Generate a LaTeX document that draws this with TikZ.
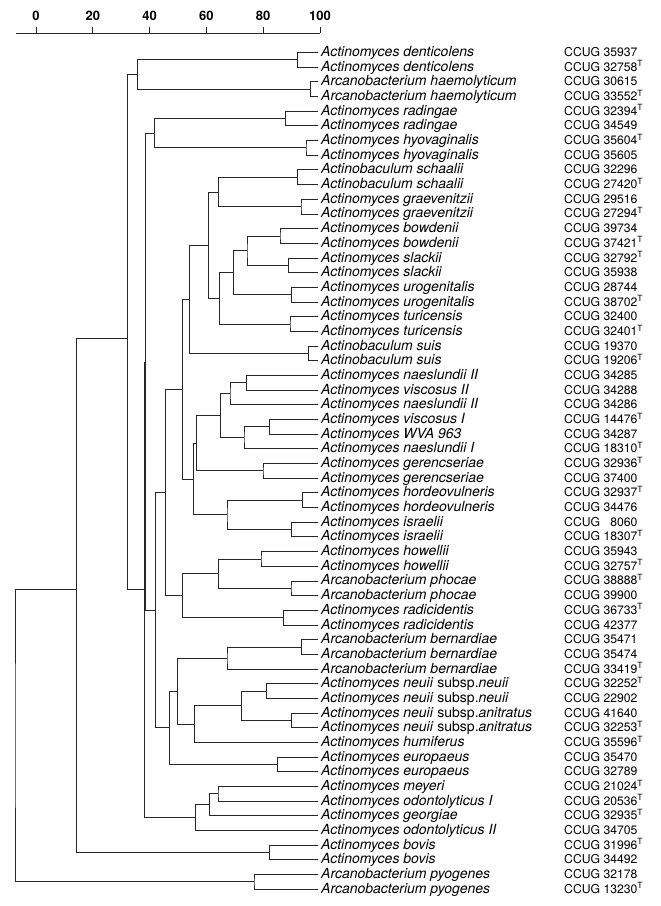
\documentclass[tikz,border=0pt]{standalone}
\usepackage{fontspec}
\setmainfont{TeX Gyre Heros}
\usetikzlibrary{calc}

% row position of a leaf (fractional rows for cluster joins)
\newcommand{\rowy}[1]{52.5+(#1-1)*14.68}
\newcommand{\typT}{\textsuperscript{T}}

\begin{document}
\begin{tikzpicture}[x=1pt, y=-1pt,
    branch/.style={line width=0.9pt, black!85, line join=miter},
    species/.style={anchor=west, inner sep=3pt, text height=10pt, text depth=2pt,
                    font=\fontsize{14}{14}\selectfont\itshape},
    strain/.style={anchor=west, inner sep=0pt, text height=10pt, text depth=2pt,
                   font=\fontsize{12.2}{13}\selectfont},
    scalelabel/.style={font=\fontsize{13}{13}\selectfont\bfseries}]

  \useasboundingbox (0,0) rectangle (661,906);

  % Similarity scale
  \coordinate (axisL) at (16,33);
  \coordinate (axisR) at (320,33);
  \draw[branch] (axisL) -- (axisR);
  \foreach \v in {0,20,...,100} {
    \coordinate (t\v) at ({36+2.84*\v},33);
    \draw[branch] (t\v) -- ++(0,-6);
    \node[scalelabel] (s\v) at ({36+2.84*\v},16) {\v};
  }

  % Strains
  \foreach \i/\sp/\cc in {
      1/Actinomyces denticolens/CCUG 35937,
      2/Actinomyces denticolens/CCUG 32758\typT,
      3/Arcanobacterium haemolyticum/CCUG 30615,
      4/Arcanobacterium haemolyticum/CCUG 33552\typT,
      5/Actinomyces radingae/CCUG 32394\typT,
      6/Actinomyces radingae/CCUG 34549,
      7/Actinomyces hyovaginalis/CCUG 35604\typT,
      8/Actinomyces hyovaginalis/CCUG 35605,
      9/Actinobaculum schaalii/CCUG 32296,
      10/Actinobaculum schaalii/CCUG 27420\typT,
      11/Actinomyces graevenitzii/CCUG 29516,
      12/Actinomyces graevenitzii/CCUG 27294\typT,
      13/Actinomyces bowdenii/CCUG 39734,
      14/Actinomyces bowdenii/CCUG 37421\typT,
      15/Actinomyces slackii/CCUG 32792\typT,
      16/Actinomyces slackii/CCUG 35938,
      17/Actinomyces urogenitalis/CCUG 28744,
      18/Actinomyces urogenitalis/CCUG 38702\typT,
      19/Actinomyces turicensis/CCUG 32400,
      20/Actinomyces turicensis/CCUG 32401\typT,
      21/Actinobaculum suis/CCUG 19370,
      22/Actinobaculum suis/CCUG 19206\typT,
      23/Actinomyces naeslundii II/CCUG 34285,
      24/Actinomyces viscosus II/CCUG 34288,
      25/Actinomyces naeslundii II/CCUG 34286,
      26/Actinomyces viscosus I/CCUG 14476\typT,
      27/Actinomyces WVA 963/CCUG 34287,
      28/Actinomyces naeslundii I/CCUG 18310\typT,
      29/Actinomyces gerencseriae/CCUG 32936\typT,
      30/Actinomyces gerencseriae/CCUG 37400,
      31/Actinomyces hordeovulneris/CCUG 32937\typT,
      32/Actinomyces hordeovulneris/CCUG 34476,
      33/Actinomyces israelii/CCUG \phantom{0}8060,
      34/Actinomyces israelii/CCUG 18307\typT,
      35/Actinomyces howellii/CCUG 35943,
      36/Actinomyces howellii/CCUG 32757\typT,
      37/Arcanobacterium phocae/CCUG 38888\typT,
      38/Arcanobacterium phocae/CCUG 39900,
      39/Actinomyces radicidentis/CCUG 36733\typT,
      40/Actinomyces radicidentis/CCUG 42377,
      41/Arcanobacterium bernardiae/CCUG 35471,
      42/Arcanobacterium bernardiae/CCUG 35474,
      43/Arcanobacterium bernardiae/CCUG 33419\typT,
      44/Actinomyces neuii \textup{subsp.}neuii/CCUG 32252\typT,
      45/Actinomyces neuii \textup{subsp.}neuii/CCUG 22902,
      46/Actinomyces neuii \textup{subsp.}anitratus/CCUG 41640,
      47/Actinomyces neuii \textup{subsp.}anitratus/CCUG 32253\typT,
      48/Actinomyces humiferus/CCUG 35596\typT,
      49/Actinomyces europaeus/CCUG 35470,
      50/Actinomyces europaeus/CCUG 32789,
      51/Actinomyces meyeri/CCUG 21024\typT,
      52/Actinomyces odontolyticus I/CCUG 20536\typT,
      53/Actinomyces georgiae/CCUG 32935\typT,
      54/Actinomyces odontolyticus II/CCUG 34705,
      55/Actinomyces bovis/CCUG 31996\typT,
      56/Actinomyces bovis/CCUG 34492,
      57/Arcanobacterium pyogenes/CCUG 32178,
      58/Arcanobacterium pyogenes/CCUG 13230\typT} {
    \node[species] (l\i) at (318,{\rowy{\i}}) {\sp};
    \node[strain] (c\i) at (564,{\rowy{\i}}) {\cc};
  }

  % Pair joins
  \coordinate (dent) at (297.7,{\rowy{1.5}});
  \coordinate (haem) at (310.7,{\rowy{3.5}});
  \coordinate (radi) at (285.7,{\rowy{5.5}});
  \coordinate (hyov) at (306,{\rowy{7.5}});
  \coordinate (scha) at (297.7,{\rowy{9.5}});
  \coordinate (grae) at (301,{\rowy{11.5}});
  \coordinate (bowd) at (280,{\rowy{13.5}});
  \coordinate (slac) at (288.3,{\rowy{15.5}});
  \coordinate (urog) at (291.7,{\rowy{17.5}});
  \coordinate (turi) at (290,{\rowy{19.5}});
  \coordinate (suis) at (308.3,{\rowy{21.5}});
  \coordinate (naes) at (246.3,{\rowy{23.5}});
  \coordinate (visc) at (269.3,{\rowy{26.5}});
  \coordinate (gere) at (263,{\rowy{29.5}});
  \coordinate (hord) at (302.3,{\rowy{31.5}});
  \coordinate (isra) at (291.7,{\rowy{33.5}});
  \coordinate (howe) at (261,{\rowy{35.5}});
  \coordinate (phoc) at (291,{\rowy{37.5}});
  \coordinate (radc) at (283.3,{\rowy{39.5}});
  \coordinate (bern) at (301.7,{\rowy{41.5}});
  \coordinate (neui) at (266.7,{\rowy{44.5}});
  \coordinate (anit) at (291.7,{\rowy{46.5}});
  \coordinate (euro) at (277.7,{\rowy{49.5}});
  \coordinate (meye) at (218,{\rowy{51.5}});
  \coordinate (bovi) at (269.3,{\rowy{55.5}});
  \coordinate (pyog) at (254,{\rowy{57.5}});

  \foreach \p/\n [evaluate=\p as \a using int(2*\p-1),
                  evaluate=\p as \b using int(2*\p)] in
      {1/dent,2/haem,3/radi,4/hyov,5/scha,6/grae,7/bowd,8/slac,9/urog,
       10/turi,11/suis,15/gere,16/hord,17/isra,18/howe,19/phoc,20/radc,
       21/bern,25/euro,28/bovi,29/pyog} {
    \draw[branch] (l\a.west) -| (\n) |- (l\b.west);
  }
  \draw[branch] (l23.west) -| (naes) |- (l24.west);
  \draw[branch] (l26.west) -| (visc) |- (l27.west);
  \draw[branch] (l44.west) -| (neui) |- (l45.west);
  \draw[branch] (l46.west) -| (anit) |- (l47.west);
  \draw[branch] (l51.west) -| (meye) |- (l52.west);

  % Cluster joins
  \coordinate (mA) at (137.7,{\rowy{2.5}});
  \coordinate (mF) at (154.3,{\rowy{6.5}});
  \coordinate (mL) at (218.3,{\rowy{10.5}});
  \coordinate (mO) at (247,{\rowy{14.5}});
  \coordinate (mN) at (233.3,{\rowy{16}});
  \coordinate (mM) at (219.7,{\rowy{17.75}});
  \coordinate (mK) at (208.7,{\rowy{14.125}});
  \coordinate (mJ) at (189.3,{\rowy{17.8125}});
  \coordinate (mS) at (230,{\rowy{24.25}});
  \coordinate (mU) at (244,{\rowy{27.25}});
  \coordinate (mR) at (220.7,{\rowy{25.75}});
  \coordinate (mQ) at (196.7,{\rowy{27.625}});
  \coordinate (mW) at (227,{\rowy{32.5}});
  \coordinate (mP) at (193.3,{\rowy{30.0625}});
  \coordinate (mI) at (182.3,{\rowy{23.9375}});
  \coordinate (mY) at (218.3,{\rowy{36.5}});
  \coordinate (mX) at (182.7,{\rowy{38}});
  \coordinate (mH) at (165.7,{\rowy{30.97}});
  \coordinate (mAB) at (227,{\rowy{42.25}});
  \coordinate (mAD) at (241.3,{\rowy{45.5}});
  \coordinate (mAC) at (194.3,{\rowy{46.75}});
  \coordinate (mAA) at (177.7,{\rowy{44.5}});
  \coordinate (mZ) at (169.3,{\rowy{47}});
  \coordinate (mG) at (155.7,{\rowy{38.98}});
  \coordinate (mE) at (145.8,{\rowy{22.1}});
  \coordinate (mAF) at (209.3,{\rowy{52.25}});
  \coordinate (mAE) at (195.7,{\rowy{53.125}});
  \coordinate (mD) at (144.1,{\rowy{37.6}});
  \coordinate (mB) at (127.3,{\rowy{20.5}});
  \coordinate (mC) at (76.5,{\rowy{37.6}});
  \coordinate (root) at (15,{\rowy{47.55}});

  \foreach \p/\a/\b in {mA/dent/haem, mF/radi/hyov, mL/scha/grae, mO/bowd/slac,
      mN/mO/urog, mM/mN/turi, mK/mL/mM, mJ/mK/suis, mS/naes/l25.west,
      mU/visc/l28.west, mR/mS/mU, mQ/mR/gere, mW/hord/isra, mP/mQ/mW,
      mI/mJ/mP, mY/howe/phoc, mX/mY/radc, mH/mI/mX, mAB/bern/l43.west,
      mAD/neui/anit, mAC/mAD/l48.west, mAA/mAB/mAC, mZ/mAA/euro, mG/mH/mZ,
      mE/mF/mG, mAF/meye/l53.west, mAE/mAF/l54.west, mD/mE/mAE, mB/mA/mD,
      mC/mB/bovi, root/mC/pyog} {
    \draw[branch] (\a) -| (\p) |- (\b);
  }
\end{tikzpicture}
\end{document}
